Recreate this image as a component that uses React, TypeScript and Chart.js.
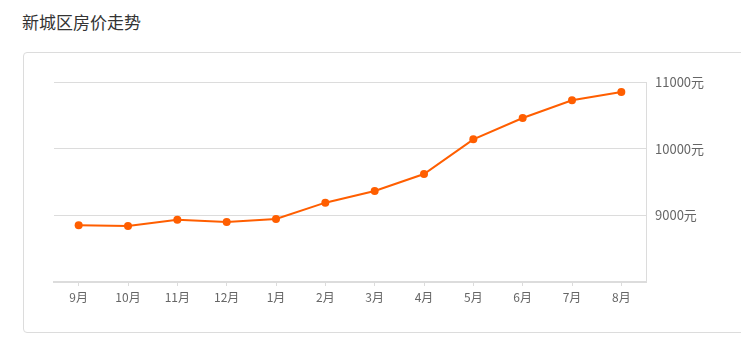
import React, { useEffect, useRef } from "react";
import { Chart, registerables } from "chart.js";

Chart.register(...registerables);

const TITLE = "新城区房价走势";
const MONTHS = ["9月", "10月", "11月", "12月", "1月", "2月", "3月", "4月", "5月", "6月", "7月", "8月"];
const PRICES = [8850, 8840, 8935, 8900, 8945, 9190, 9365, 9620, 10140, 10460, 10725, 10850];
const Y_MIN = 8000;
const Y_MAX = 11000;
const Y_STEP = 1000;
const Y_UNIT = "元";

export default function App() {
  const ref = useRef<HTMLCanvasElement | null>(null);

  useEffect(() => {
    if (!ref.current) return;
    const chart = new Chart(ref.current, {
      type: "line",
      data: {
        labels: MONTHS,
        datasets: [
          {
            data: PRICES,
            borderColor: "#ff5e00",
            backgroundColor: "#ff5e00",
            borderWidth: 2,
            pointRadius: 4,
            pointHoverRadius: 4,
            pointBorderWidth: 0,
            tension: 0,
            fill: false,
          },
        ],
      },
      options: {
        animation: false,
        responsive: false,
        maintainAspectRatio: false,
        layout: { padding: { left: 54, top: 82, right: 0, bottom: 0 } },
        plugins: { legend: { display: false }, tooltip: { enabled: false } },
        scales: {
          x: {
            offset: true,
            grid: {
              offset: false,
              drawOnChartArea: false,
              drawTicks: true,
              tickLength: 4,
              color: "#dcdcdc",
            },
            border: { display: true, color: "#dcdcdc", width: 2 },
            ticks: {
              color: "#666",
              padding: 4,
              font: { size: 12, family: "'Noto Sans CJK SC', 'Noto Sans', sans-serif" },
              maxRotation: 0,
              autoSkip: false,
            },
            afterFit: (s: any) => {
              s.height = 350 - 282;
            },
          },
          y: {
            position: "right",
            min: Y_MIN,
            max: Y_MAX,
            grid: { drawTicks: false, color: "#dcdcdc", lineWidth: 1 },
            border: { display: true, color: "#dcdcdc", width: 1 },
            ticks: {
              stepSize: Y_STEP,
              padding: 9,
              color: "#666",
              font: { size: 13, family: "'Noto Sans CJK SC', 'Noto Sans', sans-serif" },
              callback: (v: any) => (Number(v) === Y_MIN ? "" : `${v}${Y_UNIT}`),
            },
            afterFit: (s: any) => {
              s.width = 741 - 646;
            },
          },
        },
      },
    });
    return () => chart.destroy();
  }, []);

  return (
    <div
      style={{
        position: "absolute",
        left: 0,
        top: 0,
        width: 741,
        height: 350,
        overflow: "hidden",
        background: "#fff",
      }}
    >
      <div
        style={{
          position: "absolute",
          left: 22,
          top: 10,
          fontSize: 17,
          lineHeight: "24px",
          color: "#333",
          fontFamily: "'Noto Sans CJK SC', sans-serif",
        }}
      >
        {TITLE}
      </div>
      <div
        style={{
          position: "absolute",
          left: 23,
          top: 52,
          width: 760,
          height: 281,
          border: "1px solid #dcdcdc",
          borderRadius: 4,
          boxSizing: "border-box",
        }}
      />
      <canvas
        ref={ref}
        width={741}
        height={350}
        style={{ position: "absolute", left: 0, top: 0, width: 741, height: 350 }}
      />
    </div>
  );
}
